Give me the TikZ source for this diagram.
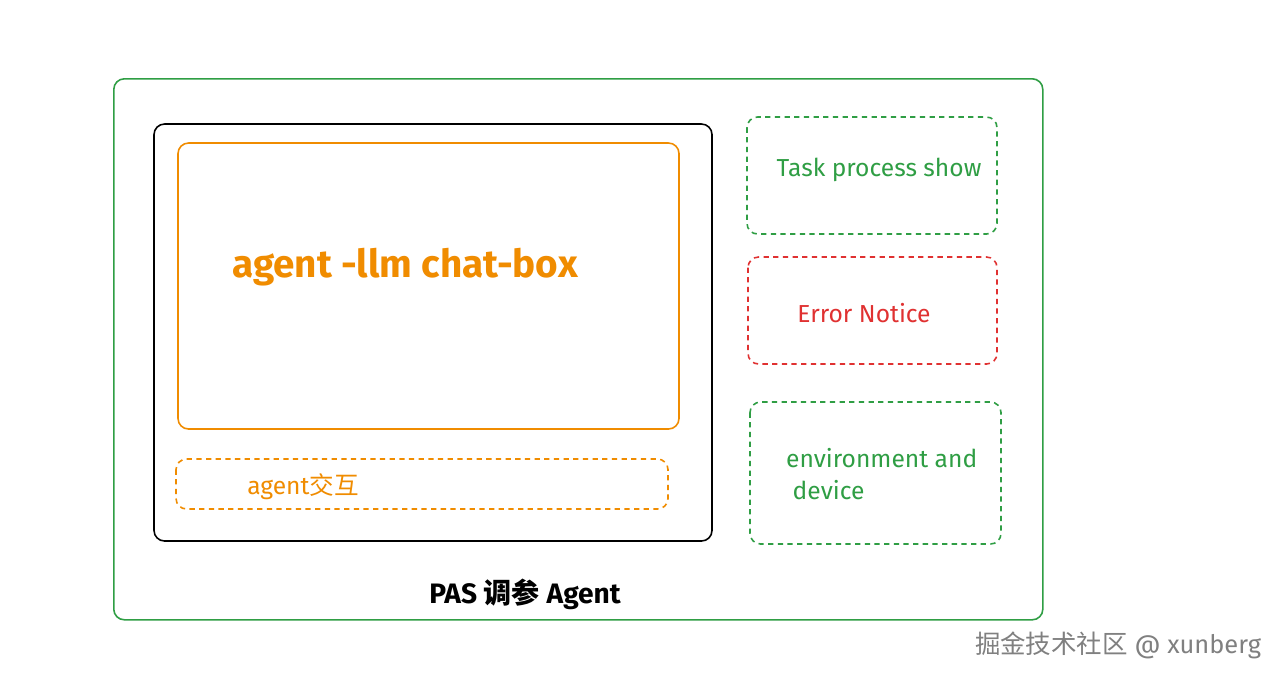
\documentclass[tikz,border=0pt]{standalone}
\usepackage{fontspec}
\setmainfont{Fira Sans}
\newfontfamily\cjk{Noto Sans CJK SC}
\definecolor{gr}{HTML}{2F9E44}
\definecolor{og}{HTML}{F08C00}
\definecolor{rd}{HTML}{E03131}
\begin{document}
\begin{tikzpicture}[x=0.02cm,y=-0.02cm,
  box/.style={draw,rounded corners=6pt,line width=0.9pt},
  dbox/.style={box,dash pattern=on 3pt off 2.5pt},
  lbl/.style={font=\fontsize{14}{18}\selectfont}]
\useasboundingbox[fill=white] (0,0) rectangle (1280,681);
\node[box,draw=gr,minimum width=929*0.02cm,minimum height=541*0.02cm,anchor=north west] (outer) at (113,78) {};
\draw[box,black] (154,124) rectangle (712,541);
\draw[box,draw=og] (178,143) rectangle (679,429);
\draw[dbox,draw=og] (176,459) rectangle (668,509);
\draw[dbox,draw=gr] (747,117) rectangle (997,234);
\draw[dbox,draw=rd] (748,257) rectangle (997,364);
\draw[dbox,draw=gr] (750,402) rectangle (1001,544);
\node[og,font=\fontsize{22}{26}\selectfont\bfseries] (chat) at (405,267) {agent -llm chat-box};
\node[og,lbl] (ai) at (303,487) {agent{\cjk 交互}};
\node[gr,lbl] (task) at (879,170) {Task process show};
\node[rd,lbl] (err) at (864,313) {Error Notice};
\node[gr,lbl,align=left,anchor=west] (env) at (780,474) {environment and\\\ device};
\node[font=\fontsize{16}{20}\selectfont\bfseries] (pas) at (525,594) {PAS {\cjk 调参} Agent};
\node[gray,font=\fontsize{14.5}{18}\selectfont] (wm) at (1118,645) {{\cjk 掘金技术社区} @ xunberg};
\end{tikzpicture}
\end{document}
